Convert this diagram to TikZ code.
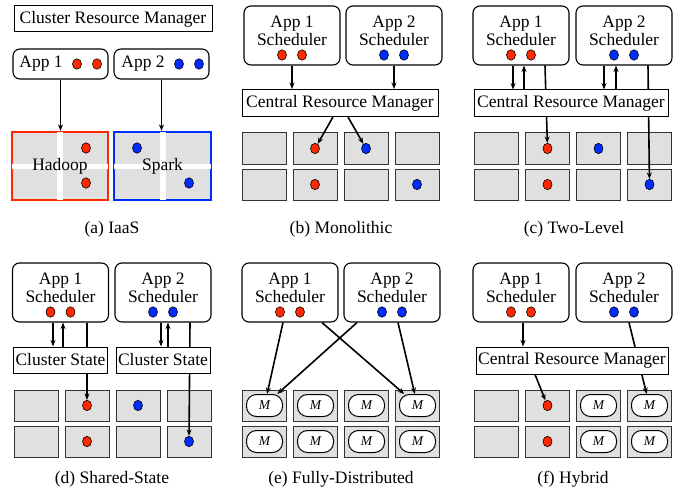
\documentclass[tikz,border=0pt]{standalone}
\usepackage{fontspec}
\setmainfont{Liberation Serif}
\usetikzlibrary{arrows.meta}
\usetikzlibrary{shapes}
\definecolor{appred}{RGB}{255,40,0}
\definecolor{appblue}{RGB}{0,45,255}
\definecolor{cellgray}{RGB}{224,224,224}

\begin{document}
\begin{tikzpicture}[>={Stealth[length=6.5pt, width=5pt]}, x=1pt, y=-1pt, font=\fontsize{17.5}{18}\selectfont]
        \tikzstyle{sched} = [draw, line width=1.1pt, rounded corners=7pt, minimum width=96pt, minimum height=59pt, inner sep=0pt]
        \tikzstyle{mgr} = [draw, line width=1pt, fill=white, minimum height=27pt, inner sep=1pt]
        \tikzstyle{cell} = [draw=black!80, line width=1pt, fill=cellgray, minimum width=44pt, minimum height=31pt, inner sep=0pt]
        \tikzstyle{reddot} = [draw, line width=0.6pt, ellipse, fill=appred, minimum width=9pt, minimum height=10.5pt, inner sep=0pt]
        \tikzstyle{bluedot} = [reddot, fill=appblue]
        \tikzstyle{master} = [draw, line width=1pt, fill=white, rounded corners=10pt, minimum width=36pt, minimum height=22pt, inner sep=0pt, font=\fontsize{13.5}{13.5}\selectfont\itshape]
        \tikzstyle{link} = [->, line width=1.6pt]

        \useasboundingbox (0,0) rectangle (681,495);

        % (a) IaaS
        \node[mgr, minimum width=198pt, minimum height=26pt] (acrm) at (113,19) {Cluster Resource Manager};
        \node[sched, minimum width=95pt, minimum height=30pt] (a1) at (60.5,64) {};
        \node[sched, minimum width=95pt, minimum height=30pt] (a2) at (161.5,64) {};
        \node (a1txt) at (41,64) {App 1};
        \node[reddot] (ared1) at (77,64) {};
        \node[reddot] (ared2) at (97,64) {};
        \node (a2txt) at (143,64) {App 2};
        \node[bluedot] (ablue1) at (179,64) {};
        \node[bluedot] (ablue2) at (199,64) {};
        \node[cell, draw=appred, line width=2.2pt, minimum width=96pt, minimum height=68pt] (hadoop) at (60,166) {};
        \node[cell, draw=appblue, line width=2.2pt, minimum width=97pt, minimum height=68pt] (spark) at (162.5,166) {};
        \draw[white, line width=6pt] ([yshift=-1.2pt]hadoop.north) -- ([yshift=1.2pt]hadoop.south);
        \draw[white, line width=5pt] ([xshift=1.2pt]hadoop.west) -- ([xshift=-1.2pt]hadoop.east);
        \draw[white, line width=6pt] ([yshift=-1.2pt]spark.north) -- ([yshift=1.2pt]spark.south);
        \draw[white, line width=5pt] ([xshift=1.2pt]spark.west) -- ([xshift=-1.2pt]spark.east);
        \node (hadooptxt) at (hadoop) {Hadoop};
        \node (sparktxt) at (spark) {Spark};
        \node[reddot] at (86,148) {};
        \node[reddot] at (86,183) {};
        \node[bluedot] at (137,148) {};
        \node[bluedot] at (189,183) {};
        \draw[link] (a1.south) -- (a1.south |- hadoop.north);
        \draw[link] (a2.south) -- (a2.south |- spark.north);
        \node (capa) at (112,229) {(a) IaaS};

        % schedulers and machines of (b)-(f)
        \foreach \p/\xa/\xb/\yy in {b/292/394/35.5, c/521/624/35.5, d/60.5/163/292.5, e/290/392/292.5, f/521/624/292.5} {
                \node[sched] (\p1) at (\xa,\yy) {};
                \node[sched] (\p2) at (\xb,\yy) {};
                \node[align=center] at ([yshift=4.5pt]\p1) {App 1\\Scheduler};
                \node[align=center] at ([yshift=4.5pt]\p2) {App 2\\Scheduler};
                \node[reddot] at ([xshift=-10pt, yshift=-19.5pt]\p1) {};
                \node[reddot] at ([xshift=10pt, yshift=-19.5pt]\p1) {};
                \node[bluedot] at ([xshift=-10pt, yshift=-19.5pt]\p2) {};
                \node[bluedot] at ([xshift=10pt, yshift=-19.5pt]\p2) {};
        }
        \foreach \p/\x/\y in {b/264/148.5, c/496.5/148.5, d/36/405.5, e/264.5/405.5, f/496.5/405.5}
                \foreach \r in {1,2}
                        \foreach \c in {1,...,4}
                                \node[cell] (\p\r\c) at ({\x+51*(\c-1)},{\y+36*(\r-1)}) {};

        % (b) Monolithic
        \node[reddot] (bred1) at (b12) {};
        \node[reddot] (bred2) at (b22) {};
        \node[bluedot] (bblue1) at (b13) {};
        \node[bluedot] (bblue2) at (b24) {};
        \node[mgr, minimum width=196pt] (bcrm) at (340,103) {Central Resource Manager};
        \draw[link] (b1.south) -- ([xshift=-48pt]bcrm.north);
        \draw[link] (b2.south) -- ([xshift=54pt]bcrm.north);
        \draw[link] ([xshift=-7pt]bcrm.south) -- (bred1);
        \draw[link] ([xshift=8pt]bcrm.south) -- (bblue1);
        \node (capb) at (341,229) {(b) Monolithic};

        % (c) Two-Level
        \node[reddot] (cred1) at (c12) {};
        \node[reddot] (cred2) at (c22) {};
        \node[bluedot] (cblue1) at (c13) {};
        \node[bluedot] (cblue2) at (c24) {};
        \draw[link] ([xshift=24pt]c1.south) -- (cred1);
        \draw[link] ([xshift=24pt]c2.south) -- (cblue2);
        \node[mgr, minimum width=194pt] (ccrm) at (571,103.5) {Central Resource Manager};
        \draw[link] ([xshift=-8pt]c1.south) -- ([xshift=-58pt]ccrm.north);
        \draw[link] ([xshift=-47pt]ccrm.north) -- ([xshift=3pt]c1.south);
        \draw[link] ([xshift=-20pt]c2.south) -- ([xshift=33pt]ccrm.north);
        \draw[link] ([xshift=45pt]ccrm.north) -- ([xshift=-8pt]c2.south);
        \node (capc) at (574,229) {(c) Two-Level};

        % (d) Shared-State
        \node[reddot] (dred1) at (d12) {};
        \node[reddot] (dred2) at (d22) {};
        \node[bluedot] (dblue1) at (d13) {};
        \node[bluedot] (dblue2) at (d24) {};
        \draw[link] ([xshift=26.5pt]d1.south) -- (dred1);
        \draw[link] ([xshift=27pt]d2.south) -- (dblue2);
        \node[mgr, minimum width=94pt, minimum height=26pt] (dcs1) at (60.5,360) {Cluster State};
        \node[mgr, minimum width=94pt, minimum height=26pt] (dcs2) at (163,360) {Cluster State};
        \draw[link] ([xshift=-7.5pt]d1.south) -- ([xshift=-7.5pt]dcs1.north);
        \draw[link] ([xshift=2.5pt]dcs1.north) -- ([xshift=2.5pt]d1.south);
        \draw[link] ([xshift=-2pt]d2.south) -- ([xshift=-2pt]dcs2.north);
        \draw[link] ([xshift=5pt]dcs2.north) -- ([xshift=5pt]d2.south);
        \node (capd) at (112,479) {(d) Shared-State};

        % (e) Fully-Distributed
        \foreach \r in {1,2}
                \foreach \c in {1,...,4}
                        \node[master] (em\r\c) at (e\r\c) {M};
        \draw[link] ([xshift=-7pt]e1.south) -- (em11);
        \draw[link] ([xshift=32pt]e1.south) -- (em14);
        \draw[link] ([xshift=-35pt]e2.south) -- (em11);
        \draw[link] ([xshift=6pt]e2.south) -- (em14);
        \node (cape) at (341,479) {(e) Fully-Distributed};

        % (f) Hybrid
        \node[reddot] (fred1) at (f12) {};
        \node[reddot] (fred2) at (f22) {};
        \foreach \r in {1,2}
                \foreach \c in {3,4}
                        \node[master] (fm\r\c) at (f\r\c) {M};
        \draw[link] ([xshift=5pt]f2.south) -- (fm14);
        \node[mgr, minimum width=192pt] (fcrm) at (572,360.5) {Central Resource Manager};
        \draw[link] ([xshift=2pt]f1.south) -- ([xshift=-49pt]fcrm.north);
        \draw[link] ([xshift=-37pt]fcrm.south) -- (fred1);
        \node (capf) at (573,479) {(f) Hybrid};
\end{tikzpicture}
\end{document}
